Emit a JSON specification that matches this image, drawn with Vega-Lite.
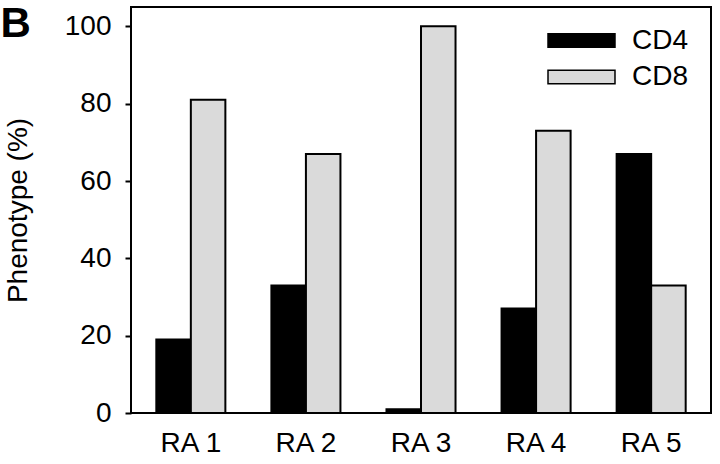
{
  "$schema": "https://vega.github.io/schema/vega-lite/v6.json",
  "width": 580,
  "height": 406,
  "autosize": "none",
  "padding": {"left": 131, "top": 7, "right": 9, "bottom": 51},
  "background": "white",
  "data": {"values": [
    {"group": "RA 1", "type": "CD4", "value": 19},
    {"group": "RA 1", "type": "CD8", "value": 81},
    {"group": "RA 2", "type": "CD4", "value": 33},
    {"group": "RA 2", "type": "CD8", "value": 67},
    {"group": "RA 3", "type": "CD4", "value": 1},
    {"group": "RA 3", "type": "CD8", "value": 100},
    {"group": "RA 4", "type": "CD4", "value": 27},
    {"group": "RA 4", "type": "CD8", "value": 73},
    {"group": "RA 5", "type": "CD4", "value": 67},
    {"group": "RA 5", "type": "CD8", "value": 33}
  ]},
  "mark": {"type": "bar", "stroke": "black", "strokeWidth": 2},
  "encoding": {
    "x": {"field": "group", "type": "nominal", "sort": null,
      "scale": {"paddingInner": 0.4, "paddingOuter": 0.22},
      "axis": {"title": "B", "titleX": -131, "titleY": -377, "titleAlign": "left", "titleBaseline": "alphabetic", "titleAngle": 0, "titleFontSize": 42, "titleFontWeight": "bold", "titleColor": "black", "titleFont": "Liberation Sans",
        "labelAngle": 0, "ticks": false, "domain": false, "labelFontSize": 28, "labelPadding": 16, "labelColor": "black", "labelFont": "Liberation Sans"}},
    "xOffset": {"field": "type", "type": "nominal", "sort": ["CD4", "CD8"]},
    "y": {"field": "value", "type": "quantitative",
      "scale": {"domain": [0, 105], "nice": false},
      "axis": {"values": [0, 20, 40, 60, 80, 100], "title": "Phenotype (%)", "grid": false, "domain": false, "tickColor": "black", "tickWidth": 2, "tickSize": 6, "labelFontSize": 28, "labelPadding": 14, "labelColor": "black", "labelFont": "Liberation Sans", "titleFontSize": 28, "titleFontWeight": "normal", "titleColor": "black", "titleFont": "Liberation Sans", "titlePadding": 32}},
    "color": {"field": "type", "type": "nominal",
      "scale": {"domain": ["CD4", "CD8"], "range": ["black", "#dadada"]},
      "legend": {"title": null, "orient": "none", "legendX": 433, "legendY": 16, "symbolType": "M-2,-0.4H2V0.4H-2Z", "symbolSize": 1122, "symbolStrokeColor": "black", "symbolStrokeWidth": 1.5, "labelFontSize": 28, "labelColor": "black", "labelFont": "Liberation Sans", "labelOffset": 33, "rowPadding": 4.5}}
  },
  "config": {"view": {"stroke": "black", "strokeWidth": 2}, "font": "Liberation Sans"}
}
